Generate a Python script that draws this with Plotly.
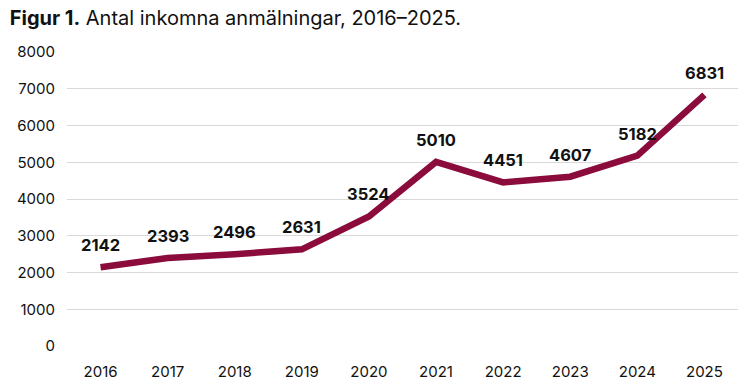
import plotly.graph_objects as go

years = ["2016", "2017", "2018", "2019", "2020", "2021", "2022", "2023", "2024", "2025"]
counts = [2142, 2393, 2496, 2631, 3524, 5010, 4451, 4607, 5182, 6831]
y_ticks = [0, 1000, 2000, 3000, 4000, 5000, 6000, 7000, 8000]

LINE_COLOR = "#8A0B3C"
FONT = "Inter, Roboto, sans-serif"

fig = go.Figure()
fig.add_trace(go.Scatter(
    x=years, y=counts, mode="lines",
    line=dict(color=LINE_COLOR, width=6.5),
    hoverinfo="skip", showlegend=False,
))

for i, v in enumerate(counts):
    fig.add_annotation(
        x=i, y=v, xref="x", yref="y", text=f"<b>{v}</b>", showarrow=False,
        yshift=22, font=dict(family=FONT, size=16.5, color="#111111"),
    )

fig.update_layout(
    width=748, height=391,
    margin=dict(l=67, r=10, t=52, b=45),
    paper_bgcolor="white", plot_bgcolor="white",
    font=dict(family=FONT, size=15, color="#111111"),
    title=dict(
        text="<b>Figur 1.</b> Antal inkomna anmälningar, 2016–2025.",
        x=0.013, xanchor="left", xref="container",
        y=1 - 17.5 / 391, yanchor="middle", yref="container",
        font=dict(family=FONT, size=20, color="#111111"),
    ),
)
fig.update_xaxes(
    type="category", range=[-0.5, 9.5], showgrid=False, showline=False,
    ticks="", tickfont=dict(size=15), ticklabelstandoff=15, automargin=False,
)
fig.update_yaxes(
    range=[0, 8000], tickvals=y_ticks, showgrid=True, gridcolor="#D9D9D9",
    gridwidth=1, zeroline=False, showline=False, ticks="",
    tickfont=dict(size=15), ticklabelstandoff=11, automargin=False,
)

fig.write_html("out.html", config={"displayModeBar": False})
with open("out.html", encoding="utf-8") as f:
    html = f.read()
html = html.replace("<head>", "<head><style>html,body{margin:0;padding:0;}</style>", 1)
with open("out.html", "w", encoding="utf-8") as f:
    f.write(html)
